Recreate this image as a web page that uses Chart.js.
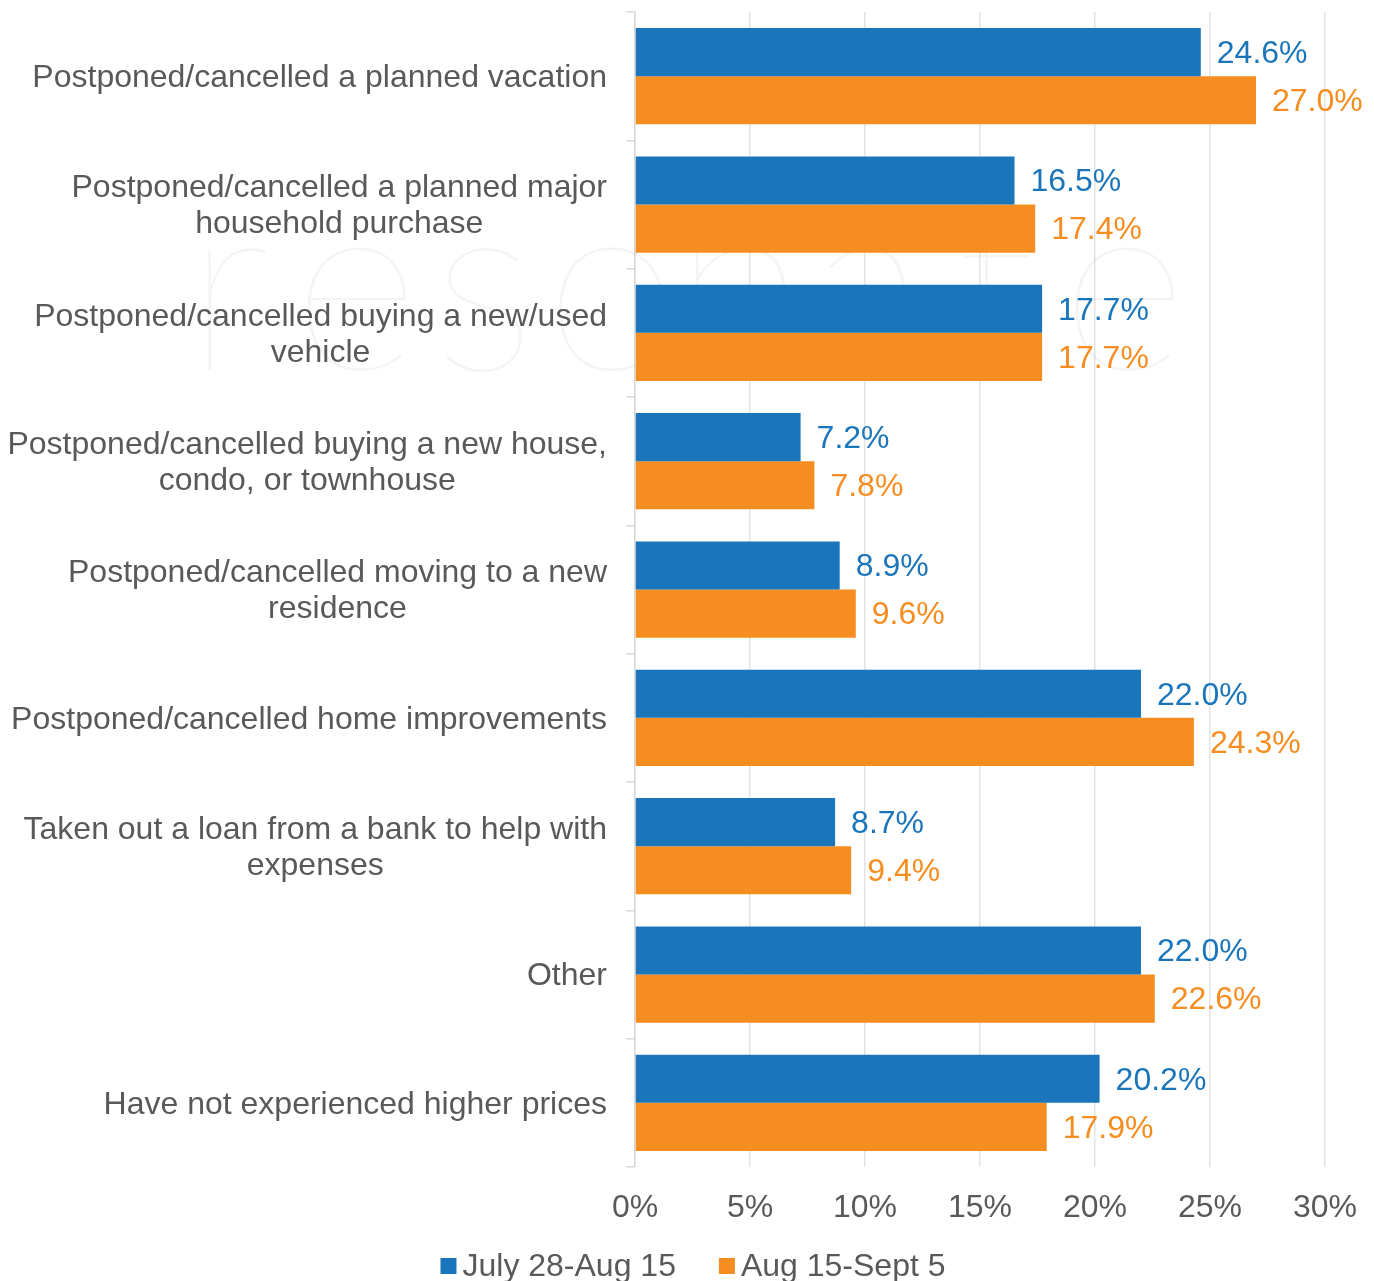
<!DOCTYPE html>
<html>
<head>
<meta charset="utf-8">
<script src="https://cdn.jsdelivr.net/npm/chart.js@4"></script>
<style>
  html, body { margin: 0; padding: 0; background: #fff; }
  #chart { display: block; }
</style>
</head>
<body>
<canvas id="chart" width="1374" height="1281"></canvas>
<script>
const categories = [
  ['Postponed/cancelled a planned vacation'],
  ['Postponed/cancelled a planned major', 'household purchase'],
  ['Postponed/cancelled buying a new/used', 'vehicle'],
  ['Postponed/cancelled buying a new house,', 'condo, or townhouse'],
  ['Postponed/cancelled moving to a new', 'residence'],
  ['Postponed/cancelled home improvements'],
  ['Taken out a loan from a bank to help with', 'expenses'],
  ['Other'],
  ['Have not experienced higher prices']
];
const seriesNames = ['July 28-Aug 15', 'Aug 15-Sept 5'];
const july = [24.6, 16.5, 17.7, 7.2, 8.9, 22.0, 8.7, 22.0, 20.2];
const august = [27.0, 17.4, 17.7, 7.8, 9.6, 24.3, 9.4, 22.6, 17.9];
const xTicks = [0, 5, 10, 15, 20, 25, 30];

const BLUE = '#1b75bb';
const ORANGE = '#f68d20';
const TEXT = '#595959';
const FONT = 'Liberation Sans, Arial, sans-serif';
const FS = 32;

// faint "resonate" watermark behind the bars
const watermark = {
  id: 'watermark',
  beforeDatasetsDraw(chart){
    const ctx = chart.ctx;
    ctx.save();
    ctx.font = '200 245px Lato, sans-serif';
    ctx.fillStyle = 'rgba(0,0,0,0.045)';
    ctx.textAlign = 'center';
    ctx.textBaseline = 'alphabetic';
    'resonate'.split('').forEach((ch, i)=>{
      ctx.fillText(ch, 228 + i*128, 370);
    });
    ctx.restore();
  }
};

// category labels: block right-aligned to the axis, lines centred inside it
const catLabels = {
  id: 'catLabels',
  afterDraw(chart){
    const ctx = chart.ctx;
    const y = chart.scales.y;
    const right = y.right - 28;
    const lh = 36;
    ctx.save();
    ctx.font = FS + 'px ' + FONT;
    ctx.fillStyle = TEXT;
    ctx.textAlign = 'center';
    ctx.textBaseline = 'middle';
    categories.forEach((lines, i)=>{
      const w = Math.max(...lines.map(l=>ctx.measureText(l).width));
      const cx = right - w/2;
      const cy = y.getPixelForValue(i) + 2;
      lines.forEach((l, j)=>{
        ctx.fillText(l, cx, cy + (j - (lines.length-1)/2)*lh);
      });
    });
    ctx.restore();
  }
};

// value labels at the end of each bar
const valueLabels = {
  id: 'valueLabels',
  afterDatasetsDraw(chart){
    const ctx = chart.ctx;
    ctx.save();
    ctx.font = FS + 'px ' + FONT;
    ctx.textAlign = 'left';
    ctx.textBaseline = 'middle';
    chart.data.datasets.forEach((ds, di)=>{
      ctx.fillStyle = ds.backgroundColor;
      chart.getDatasetMeta(di).data.forEach((bar, i)=>{
        ctx.fillText(ds.data[i].toFixed(1) + '%', bar.x + 16, bar.y + 2);
      });
    });
    ctx.restore();
  }
};

// legend at the bottom, drawn from the datasets
const bottomLegend = {
  id: 'bottomLegend',
  afterDraw(chart){
    const ctx = chart.ctx;
    const box = 16, gap = 6, itemGap = 43, cy = 1266;
    ctx.save();
    ctx.font = FS + 'px ' + FONT;
    ctx.textBaseline = 'middle';
    ctx.textAlign = 'left';
    const items = chart.data.datasets.map(ds=>({
      text: ds.label, color: ds.backgroundColor, w: box + gap + ctx.measureText(ds.label).width
    }));
    const total = items.reduce((a, it)=>a + it.w, 0) + itemGap*(items.length-1);
    let x = 693 - total/2;
    items.forEach(it=>{
      ctx.fillStyle = it.color;
      ctx.fillRect(x, cy - box/2, box, box);
      ctx.fillStyle = TEXT;
      ctx.fillText(it.text, x + box + gap, cy + 1);
      x += it.w + itemGap;
    });
    ctx.restore();
  }
};

new Chart(document.getElementById('chart'), {
  type: 'bar',
  data: {
    labels: categories,
    datasets: [
      { label: seriesNames[0], data: july, backgroundColor: BLUE, categoryPercentage: 0.75, barPercentage: 1.0 },
      { label: seriesNames[1], data: august, backgroundColor: ORANGE, categoryPercentage: 0.75, barPercentage: 1.0 }
    ]
  },
  options: {
    indexAxis: 'y',
    responsive: false,
    animation: false,
    layout: { padding: { top: 12, right: 49, bottom: 54, left: 0 } },
    scales: {
      x: {
        min: xTicks[0],
        max: xTicks[xTicks.length-1],
        afterBuildTicks: s => { s.ticks = xTicks.map(v=>({value:v})); },
        afterFit: s => { s.height = 60; s.paddingLeft = 0; s.paddingRight = 0; },
        ticks: {
          padding: 22,
          color: TEXT,
          font: { family: FONT, size: FS },
          callback: v => v + '%'
        },
        grid: { color: '#e3e3e3', lineWidth: 1.5, drawTicks: false },
        border: { display: false }
      },
      y: {
        afterFit: s => { s.width = 635; },
        ticks: { display: false },
        grid: { drawOnChartArea: false, drawTicks: true, tickLength: 9, color: '#d9d9d9', lineWidth: 1.5, offset: true },
        border: { display: true, color: '#d9d9d9', width: 1.5 }
      }
    },
    plugins: {
      legend: { display: false },
      tooltip: { enabled: false }
    }
  },
  plugins: [watermark, catLabels, valueLabels, bottomLegend]
});
</script>
</body>
</html>
